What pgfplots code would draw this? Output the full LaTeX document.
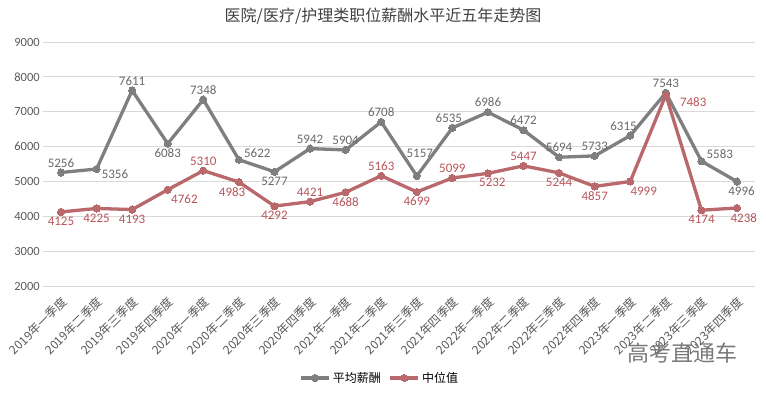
\documentclass[border=0pt]{standalone}
\usepackage{pgfplots}
\pgfplotsset{compat=1.18}
\usepackage{pgfplotstable}
\usepackage{fontspec}
\setmainfont{Carlito}
\newfontfamily\cjk{Noto Sans CJK SC}
\definecolor{avgc}{RGB}{127,127,127}
\definecolor{medc}{RGB}{185,104,108}
\definecolor{avgl}{RGB}{105,105,105}
\definecolor{medl}{RGB}{185,84,90}
\definecolor{tickc}{RGB}{89,89,89}
\definecolor{gridc}{RGB}{217,217,217}
\definecolor{titlec}{RGB}{64,64,64}

\pgfplotstableread{
x y a
0 5256 270
1 5356 165
2 7611 270
3 6083 90
4 7348 270
5 5622 200
6 5277 90
7 5942 270
8 5904 270
9 6708 270
10 5157 270
11 6535 290
12 6986 270
13 6472 270
14 5694 270
15 5733 270
16 6315 305
17 7543 270
18 5583 200
19 4996 115
}\avgdata

\pgfplotstableread{
x y a
0 4125 90
1 4225 90
2 4193 90
3 4762 150
4 5310 270
5 4983 55
6 4292 90
7 4421 270
8 4688 90
9 5163 270
10 4699 90
11 5099 270
12 5232 115
13 5447 270
14 5244 90
15 4857 90
16 4999 145
17 7483 170
18 4174 90
19 4238 125
}\meddata

\begin{document}
\begin{tikzpicture}[x=1pt,y=1pt]
\path[use as bounding box] (0,0) rectangle (766,393);
\begin{axis}[
  at={(43.2pt,107pt)}, anchor=south west,
  scale only axis, width=711.6pt, height=244pt,
  xmin=-0.5, xmax=19.5, ymin=2000, ymax=9000,
  ytick={2000,3000,...,9000},
  xtick={0,...,19},
  xticklabels={2019年一季度,2019年二季度,2019年三季度,2019年四季度,2020年一季度,2020年二季度,2020年三季度,2020年四季度,2021年一季度,2021年二季度,2021年三季度,2021年四季度,2022年一季度,2022年二季度,2022年三季度,2022年四季度,2023年一季度,2023年二季度,2023年三季度,2023年四季度},
  ymajorgrids, grid style={gridc, line width=0.8pt},
  axis line style={draw=none},
  major tick length=0pt,
  /pgf/number format/assume math mode=true,
  /pgf/number format/1000 sep={},
  yticklabel style={font=\fontsize{12.5}{12.5}\selectfont, color=tickc},
  xticklabel style={font=\cjk\fontsize{12}{12}\selectfont, color=tickc, xshift=6pt, yshift=-11pt, rotate=45, anchor=east},
  legend style={at={(0.473,-0.377)}, anchor=center, draw=none, fill=none,
    font=\cjk\fontsize{12}{12}\selectfont, legend columns=2,
    /tikz/every even column/.append style={column sep=6pt}},
  legend image code/.code={\draw[#1, mark repeat=2, mark phase=2] plot coordinates {(0pt,0pt)(14pt,0pt)(28pt,0pt)};},
  clip=false,
]
\addplot[avgc, line width=3.3pt, mark=*, mark size=3.6pt,
  mark options={fill=avgc, draw=avgc, line width=0pt}]
  table[x=x,y=y] {\avgdata};
\addplot[medc, line width=3.3pt, mark=*, mark size=3.6pt,
  mark options={fill=medc, draw=medc, line width=0pt}]
  table[x=x,y=y] {\meddata};
\legend{平均薪酬,中位值}
% data labels
\addplot[draw=none, mark=none, forget plot, point meta=explicit symbolic,
  skip coords between index={10}{11},
  nodes near coords={\pgfmathprintnumber[fixed,precision=0]{\pgfkeysvalueof{/data point/y}}},
  every node near coord/.append style={anchor=\pgfplotspointmeta, font=\fontsize{13}{13}\selectfont, color=avgl, inner sep=5pt}]
  table[x=x,y=y,meta=a] {\avgdata};
\addplot[draw=none, mark=none, forget plot,
  nodes near coords={\pgfmathprintnumber[fixed,precision=0]{\pgfkeysvalueof{/data point/y}}},
  every node near coord/.append style={anchor=south, font=\fontsize{13}{13}\selectfont, color=avgl, inner sep=5pt, yshift=13pt, xshift=3pt}]
  coordinates {(10,5157)};
\addplot[draw=none, mark=none, forget plot, point meta=explicit symbolic,
  skip coords between index={17}{18},
  nodes near coords={\pgfmathprintnumber[fixed,precision=0]{\pgfkeysvalueof{/data point/y}}},
  every node near coord/.append style={anchor=\pgfplotspointmeta, font=\fontsize{13}{13}\selectfont, color=medl, inner sep=5pt}]
  table[x=x,y=y,meta=a] {\meddata};
\addplot[draw=none, mark=none, forget plot,
  nodes near coords={\pgfmathprintnumber[fixed,precision=0]{\pgfkeysvalueof{/data point/y}}},
  every node near coord/.append style={anchor=west, font=\fontsize{13}{13}\selectfont, color=medl, inner sep=5pt, xshift=9pt, yshift=-7pt}]
  coordinates {(17,7483)};
\end{axis}
\node[font=\cjk\fontsize{16}{16}\selectfont, color=titlec] at (383,377) {医院/医疗/护理类职位薪酬水平近五年走势图};
\node[font=\cjk\fontsize{22}{22}\selectfont, color={rgb,255:red,120;green,120;blue,120}] at (682,40) {高考直通车};
\end{tikzpicture}
\end{document}
